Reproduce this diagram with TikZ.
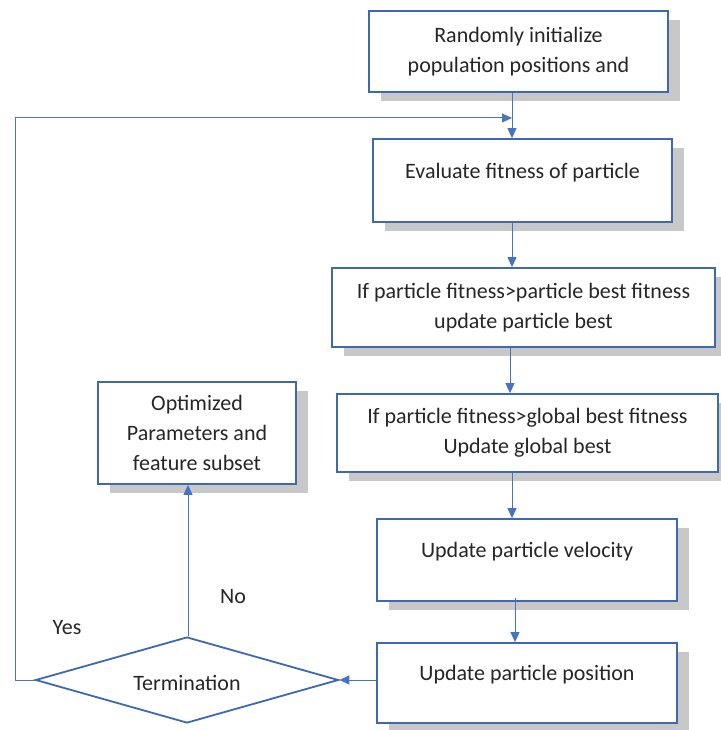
\documentclass[tikz,border=0pt]{standalone}
\usepackage{fontspec}
\setmainfont{Carlito}
\usetikzlibrary{arrows.meta,shapes.geometric}
\definecolor{boxblue}{HTML}{3E68B2}
\definecolor{lineblue}{HTML}{4472C4}
\definecolor{shadowgray}{HTML}{C8C8C8}
\tikzset{
  procbox/.style={draw=boxblue, line width=1.8pt, fill=white, rectangle, inner sep=0pt, align=center,
    font=\fontsize{22}{30}\selectfont, text=black!85},
  shadowed/.style={preaction={fill=shadowgray, draw=none, transform canvas={xshift=12pt,yshift=-9pt}}},
  decision/.style={draw=boxblue, line width=1.8pt, shape=diamond, aspect=3.5, inner sep=0pt,
    minimum width=303pt, minimum height=86pt, font=\fontsize{22}{30}\selectfont, text=black!85},
  conn/.style={draw=lineblue, line width=1pt, -{Triangle[length=10pt,width=9pt]}},
  plainlabel/.style={font=\fontsize{22}{30}\selectfont, text=black!85}
}
\newcommand{\upshift}[1]{\raisebox{8pt}[\height][\depth]{#1}}
\begin{document}
\begin{tikzpicture}[x=1pt,y=-1pt]
\useasboundingbox (0,0) rectangle (720,730);
\node[procbox, shadowed, minimum width=299pt, minimum height=81pt] (b1) at (518.5,51.5) {Randomly initialize\\population positions and};
\node[procbox, shadowed, minimum width=299pt, minimum height=83pt] (b2) at (522.5,180.5) {\upshift{Evaluate fitness of particle}};
\node[procbox, shadowed, minimum width=383pt, minimum height=79pt] (b3) at (523.5,307.5) {If particle fitness>particle best fitness\\update particle best};
\node[procbox, shadowed, minimum width=381pt, minimum height=78pt] (b4) at (527.5,433) {If particle fitness>global best fitness\\Update global best};
\node[procbox, shadowed, minimum width=300pt, minimum height=82pt] (b5) at (527,560) {\upshift{Update particle velocity}};
\node[procbox, shadowed, minimum width=300pt, minimum height=80pt] (b6) at (527,683) {\upshift{Update particle position}};
\node[procbox, shadowed, minimum width=198pt, minimum height=102pt] (opt) at (197,433) {Optimized\\Parameters and\\feature subset};
\node[decision] (term) at (187,680) {\raisebox{-3pt}[\height][\depth]{Termination}};
\node[plainlabel] (yes) at (67,628) {Yes};
\node[plainlabel] (no) at (233,597) {No};
\coordinate (xa) at (512,0);
\coordinate (xb) at (510,0);
\coordinate (xc) at (515,0);
\coordinate (xd) at (188,0);
\coordinate (lx) at (15,0);
\coordinate (loopy) at (0,118);
\draw[conn] (b1.south -| xa) -- (b2.north -| xa);
\draw[conn] (b2.south -| xa) -- (b3.north -| xa);
\draw[conn] (b3.south -| xb) -- (b4.north -| xb);
\draw[conn] (b4.south -| xa) -- (b5.north -| xa);
\draw[conn] ([yshift=4pt]b5.south -| xc) -- (b6.north -| xc);
\draw[conn] (b6.west |- term.east) -- (term.east);
\draw[conn] (term.north -| xd) -- (opt.south -| xd);
\draw[conn, draw=lineblue!80!gray] (term.west) -- (term.west -| lx) -- (loopy -| lx) -- (loopy -| xa);
\end{tikzpicture}
\end{document}
